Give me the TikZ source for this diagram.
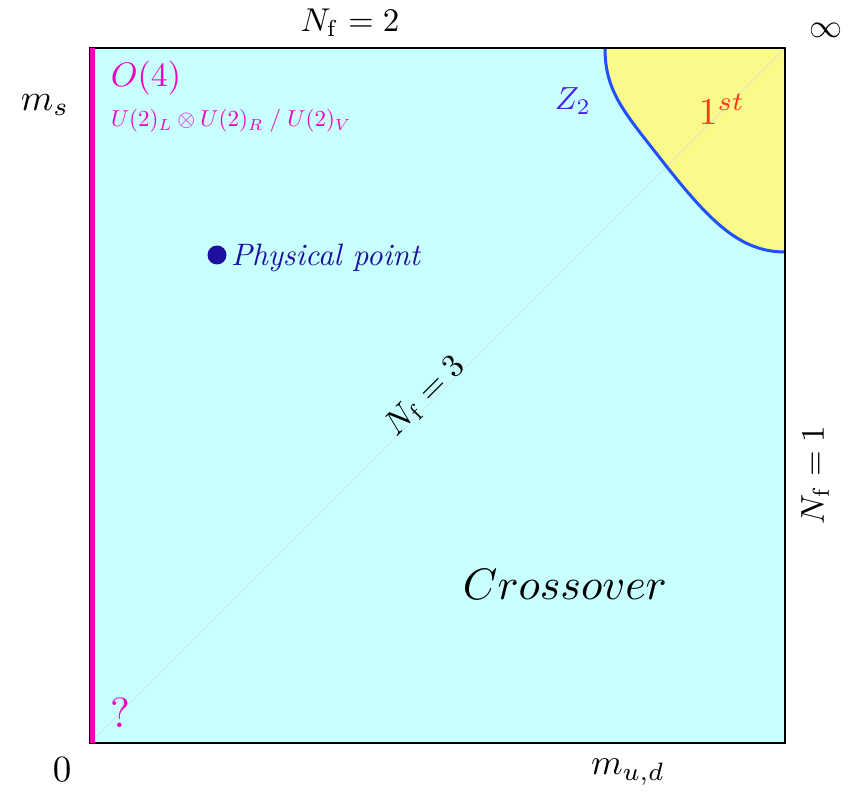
\documentclass[tikz,border=0pt]{standalone}
\definecolor{regcyan}{HTML}{C8FFFF}
\definecolor{regyellow}{HTML}{FAFA8A}
\definecolor{curveblue}{HTML}{2050FF}
\definecolor{magentaL}{HTML}{F000C0}
\definecolor{ptblue}{HTML}{1E0FA0}
\definecolor{ztwo}{HTML}{4B1EF0}
\definecolor{firstred}{HTML}{FF3A10}
\definecolor{diaggray}{HTML}{D0DCDC}
\tikzset{
  lbl/.style={inner sep=0pt, outer sep=0pt},
}
\begin{document}
\begin{tikzpicture}[x=1pt,y=1pt]
\useasboundingbox (0,0) rectangle (852,793);
% region
\fill[regcyan] (90,50) rectangle (785,745);
\fill[regyellow] (605,745) .. controls (605,700) and (625,680) .. (667,626)
  .. controls (710,572) and (740,541) .. (785,541) -- (785,745) -- cycle;
\coordinate (origin) at (90,50);
\coordinate (corner) at (785,745);
\draw[diaggray, line width=0.6pt] (origin) -- (corner);
\draw[curveblue, line width=3pt] (605,745) .. controls (605,700) and (625,680) .. (667,626)
  .. controls (710,572) and (740,541) .. (785,541);
\draw[black, line width=1.4pt] (90,50) rectangle (785,745);
\draw[magentaL, line width=4.5pt] (92.3,50) -- (92.3,745);
% labels
\node[lbl, scale=3.3] (nf2) at (350,770) {$N_{\mathrm{f}}=2$};
\node[lbl, scale=3.3] (inf) at (826,763) {$\infty$};
\node[lbl, scale=3.7] (ms) at (45,688) {$m_s$};
\node[lbl, scale=3.4, text=magentaL] (o4) at (146,715) {$O(4)$};
\node[lbl, scale=2.3, text=magentaL, anchor=west] (sym) at (111,672) {$U(2)_L\otimes U(2)_R\;/\;U(2)_V$};
\node[lbl, scale=3.2, text=ztwo] (z2) at (573,692) {$Z_2$};
\node[lbl, scale=3.8, text=firstred] (first) at (722,684) {$1^{st}$};
\fill[ptblue] (217,538) circle (9.5) node[lbl] (pp) {};
\node[lbl, scale=3.1, text=ptblue, anchor=west] (ppl) at (231,535) {\itshape Physical point};
\node[lbl, scale=3.3, rotate=45] (nf3) at (425,397) {$N_{\mathrm{f}}=3$};
\node[lbl, scale=3.3, rotate=90] (nf1) at (815,318) {$N_{\mathrm{f}}=1$};
\node[lbl, scale=4.4] (cross) at (565,209) {$Crossover$};
\node[lbl, scale=4.2, text=magentaL] (q) at (120,80) {?};
\node[lbl, scale=3.7] (zero) at (62,23) {$0$};
\node[lbl, scale=3.6] (mud) at (628,21) {$m_{u,d}$};
\end{tikzpicture}
\end{document}
